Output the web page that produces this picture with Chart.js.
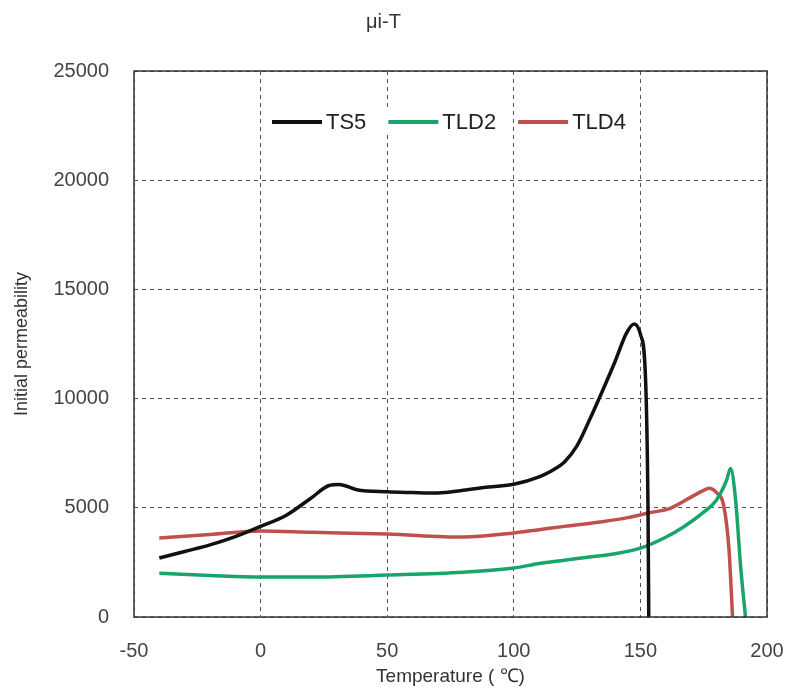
<!DOCTYPE html>
<html>
<head>
<meta charset="utf-8">
<script src="https://cdn.jsdelivr.net/npm/chart.js@4/dist/chart.umd.min.js"></script>
<style>
  html, body { margin: 0; padding: 0; background: #fff; }
  #wrap { width: 787px; height: 688px; }
</style>
</head>
<body>
<div id="wrap"><canvas id="chart"></canvas></div>
<script>
// Temperature (℃) and initial permeability
const ts5Temp = [-40, -30, -20, -10, 0, 10, 20, 27, 31, 38, 50, 60, 70, 80, 90, 100, 110, 115, 120, 125, 130, 135, 140, 144.5, 147.5, 150, 152, 153, 153.3];
const ts5Mu = [2700, 3000, 3300, 3680, 4150, 4650, 5450, 6020, 6070, 5830, 5730, 5700, 5680, 5800, 5950, 6080, 6420, 6700, 7100, 7850, 9050, 10350, 11700, 13000, 13420, 12950, 11000, 5000, 0];

const tld2Temp = [-40, -20, 0, 20, 50, 80, 100, 110, 120, 130, 140, 150, 160, 167, 175, 180, 184, 185.6, 187.6, 189.6, 191.5];
const tld2Mu = [2000, 1900, 1830, 1830, 1920, 2050, 2240, 2450, 2600, 2750, 2900, 3150, 3650, 4120, 4800, 5350, 6250, 6800, 5360, 2290, 0];

const tld4Temp = [-40, -20, 0, 20, 50, 80, 100, 110, 120, 134, 145, 153, 162, 170, 175, 177, 180, 183, 185, 186.4];
const tld4Mu = [3620, 3780, 3940, 3880, 3800, 3660, 3850, 4000, 4150, 4350, 4550, 4760, 4990, 5490, 5800, 5900, 5700, 5040, 3070, 0];

const xTicks = [-50, 0, 50, 100, 150, 200];
const yTicks = [0, 5000, 10000, 15000, 20000, 25000];

const toPoints = (xs, ys) => xs.map((x, i) => ({ x: x, y: ys[i] }));

const FONT = "'Liberation Sans', Arial, sans-serif";

// solid frame around the plot area
const frame = {
  id: "frame",
  afterDraw(chart) {
    const a = chart.chartArea, ctx = chart.ctx;
    ctx.save();
    ctx.strokeStyle = "#333";
    ctx.lineWidth = 1.5;
    ctx.strokeRect(a.left, a.top, a.right - a.left, a.bottom - a.top);
    ctx.restore();
  }
};

// horizontal legend sitting inside the top of the plot area
const innerLegend = {
  id: "innerLegend",
  afterDraw(chart) {
    const a = chart.chartArea, ctx = chart.ctx;
    const lineLen = 50, gapText = 4, gapItem = 22;
    ctx.save();
    ctx.font = "22px " + FONT;
    ctx.textBaseline = "middle";
    let x = a.left + 138;
    const y = a.top + 51;
    chart.data.datasets.forEach(ds => {
      const w = ctx.measureText(ds.label).width;
      ctx.fillStyle = "#fff";
      ctx.fillRect(x - 2, y - 13, lineLen + gapText + w + 4, 26);
      ctx.strokeStyle = ds.borderColor;
      ctx.lineWidth = 4;
      ctx.beginPath();
      ctx.moveTo(x, y);
      ctx.lineTo(x + lineLen, y);
      ctx.stroke();
      ctx.fillStyle = "#222";
      ctx.fillText(ds.label, x + lineLen + gapText, y + 1);
      x += lineLen + gapText + w + gapItem;
    });
    ctx.restore();
  }
};

const mkSet = (label, xs, ys, color) => ({
  label: label,
  data: toPoints(xs, ys),
  borderColor: color,
  backgroundColor: color,
  borderWidth: 3.5,
  pointRadius: 0,
  cubicInterpolationMode: "monotone",
  fill: false
});

new Chart(document.getElementById("chart").getContext("2d"), {
  type: "line",
  data: {
    datasets: [
      mkSet("TS5", ts5Temp, ts5Mu, "#111111"),
      mkSet("TLD2", tld2Temp, tld2Mu, "#17a56a"),
      mkSet("TLD4", tld4Temp, tld4Mu, "#c0504d")
    ]
  },
  options: {
    responsive: true,
    maintainAspectRatio: false,
    animation: false,
    layout: { padding: { left: 0, right: 20, top: 0, bottom: 0 } },
    scales: {
      x: {
        type: "linear",
        min: -50,
        max: 200,
        afterBuildTicks: s => { s.ticks = xTicks.map(v => ({ value: v })); },
        afterFit: s => { s.height = 71; s.paddingLeft = 0; s.paddingRight = 0; },
        grid: { color: "#555", drawTicks: false },
        border: { display: false, dash: [4, 4] },
        ticks: {
          color: "#444",
          padding: 22,
          font: { size: 20, family: FONT },
          callback: v => String(v)
        },
        title: {
          display: true,
          text: "Temperature ( ℃)",
          color: "#333",
          padding: { top: 0, bottom: 0 },
          font: { size: 19, family: FONT }
        }
      },
      y: {
        min: 0,
        max: 25000,
        afterBuildTicks: s => { s.ticks = yTicks.map(v => ({ value: v })); },
        afterFit: s => { s.width = 134; },
        grid: { color: "#555", drawTicks: false },
        border: { display: false, dash: [4, 4] },
        ticks: {
          color: "#444",
          padding: 25,
          font: { size: 20, family: FONT },
          callback: v => String(v)
        },
        title: {
          display: true,
          text: "Initial permeability",
          color: "#333",
          padding: { top: 11, bottom: 0 },
          font: { size: 18, family: FONT }
        }
      }
    },
    plugins: {
      title: {
        display: true,
        text: "μi-T",
        color: "#333",
        padding: { top: 10, bottom: 37 },
        font: { size: 20, weight: "normal", family: FONT }
      },
      legend: { display: false },
      tooltip: { enabled: false }
    }
  },
  plugins: [frame, innerLegend]
});
</script>
</body>
</html>
